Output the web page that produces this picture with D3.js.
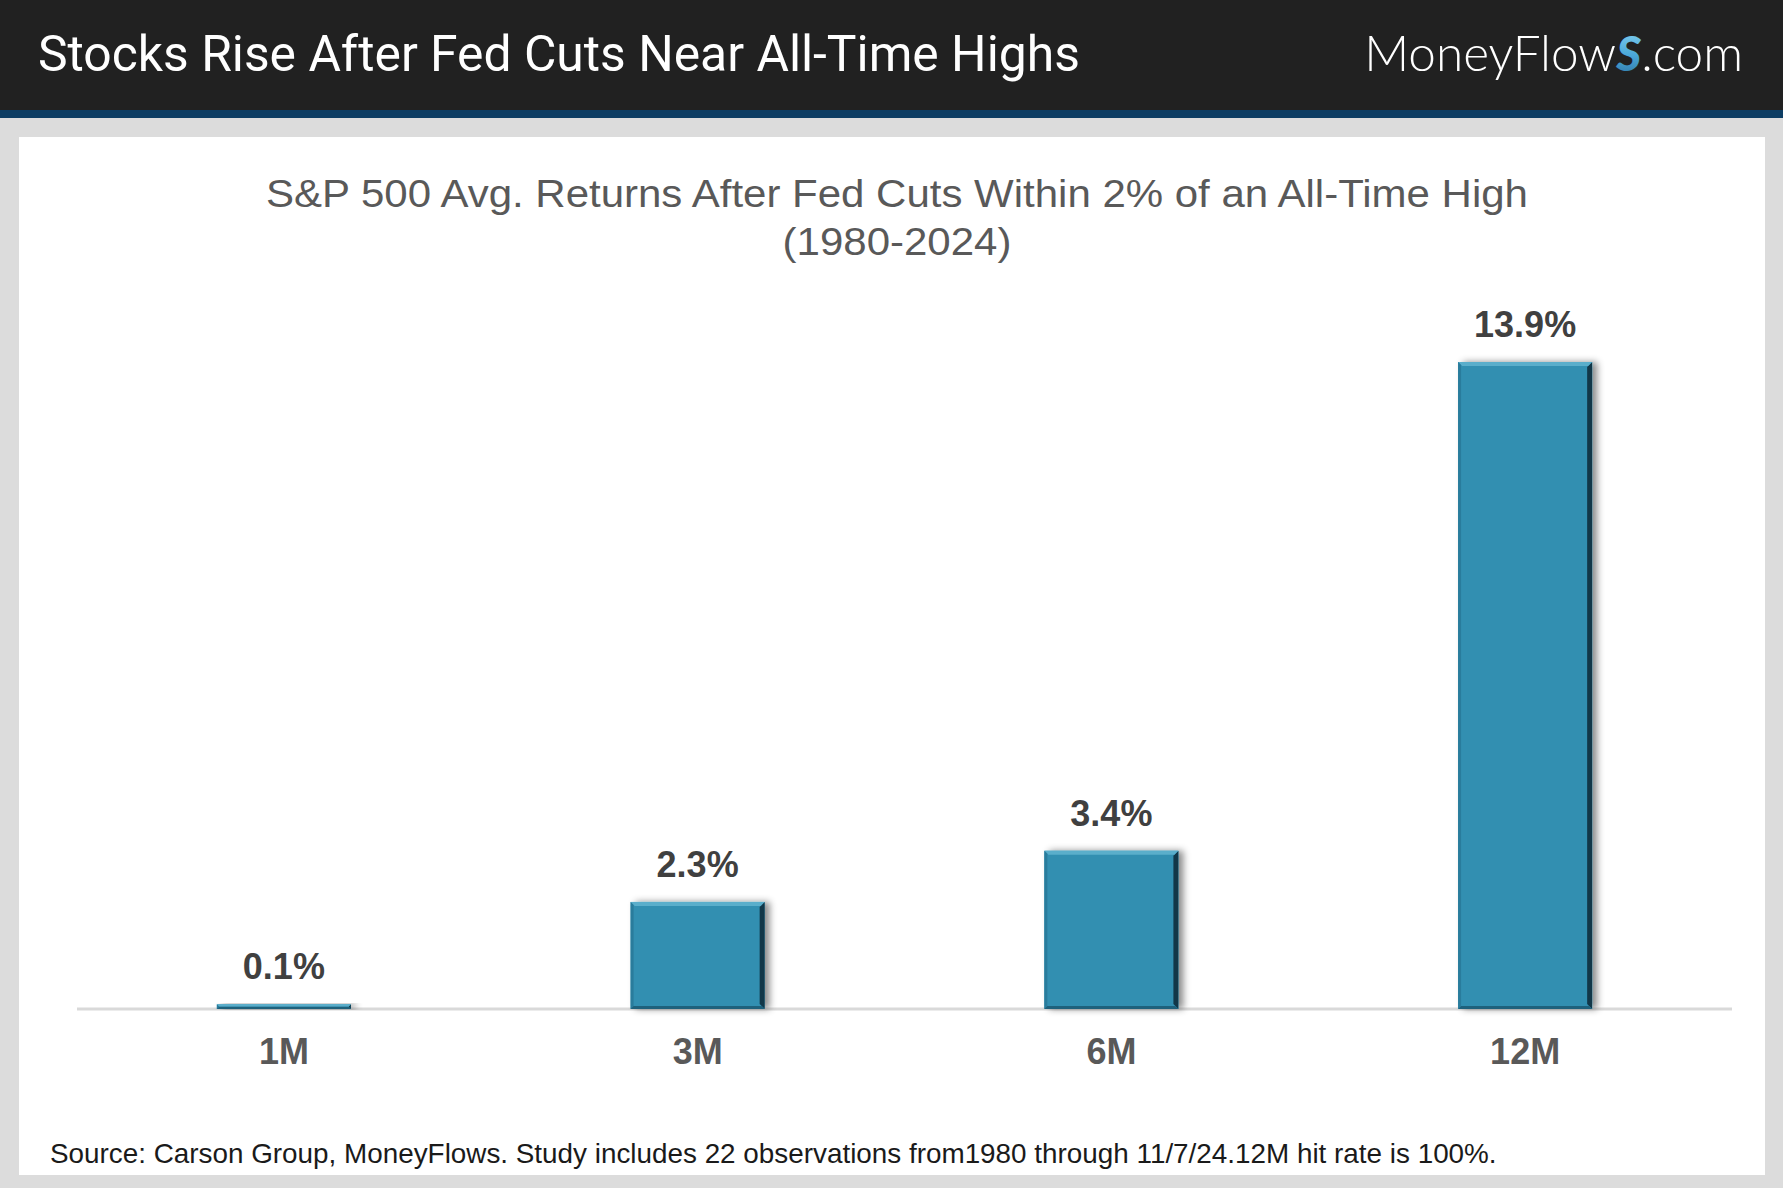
<!DOCTYPE html>
<html>
<head>
<meta charset="utf-8">
<script src="https://cdn.jsdelivr.net/npm/d3@7"></script>
<style>
  html, body { margin: 0; padding: 0; background: #dcdcdc; }
  svg { display: block; }
</style>
</head>
<body>
<svg id="chart" width="1783" height="1188"></svg>
<script>
// ---- data ----
const categories = ["1M", "3M", "6M", "12M"];
const values = [0.1, 2.3, 3.4, 13.9];
const valueLabels = ["0.1%", "2.3%", "3.4%", "13.9%"];
const headerTitle = "Stocks Rise After Fed Cuts Near All-Time Highs";
const subtitleLines = ["S&P 500 Avg. Returns After Fed Cuts Within 2% of an All-Time High", "(1980-2024)"];
const sourceText = "Source: Carson Group, MoneyFlows. Study includes 22 observations from1980 through 11/7/24.12M hit rate is 100%.";

const W = 1783, H = 1188;
const svg = d3.select("#chart");

function fitWidth(sel, target) {
  const node = sel.node();
  const w = node.getComputedTextLength();
  const fs = parseFloat(sel.attr("font-size"));
  sel.attr("font-size", fs * target / w);
}

// ---- defs ----
const defs = svg.append("defs");
const sh = defs.append("filter").attr("id", "shadow")
  .attr("x", "-20%").attr("y", "-20%").attr("width", "140%").attr("height", "140%");
sh.append("feDropShadow").attr("dx", 5).attr("dy", 0).attr("stdDeviation", 3.5)
  .attr("flood-color", "#000").attr("flood-opacity", 0.45);
const lg = defs.append("linearGradient").attr("id", "sgrad")
  .attr("x1", "0").attr("y1", "0").attr("x2", "0").attr("y2", "1");
lg.append("stop").attr("offset", "0%").attr("stop-color", "#8fd8f5");
lg.append("stop").attr("offset", "55%").attr("stop-color", "#4aa8d8");
lg.append("stop").attr("offset", "100%").attr("stop-color", "#2a6f9e");

// ---- background / header ----
svg.append("rect").attr("x", 0).attr("y", 0).attr("width", W).attr("height", H).attr("fill", "#dcdcdc");
svg.append("rect").attr("x", 0).attr("y", 0).attr("width", W).attr("height", 111).attr("fill", "#212121");
svg.append("rect").attr("x", 0).attr("y", 110).attr("width", W).attr("height", 8).attr("fill", "#0d3d63");
svg.append("rect").attr("x", 19).attr("y", 137).attr("width", 1746).attr("height", 1038).attr("fill", "#ffffff");

const ht = svg.append("text").attr("x", 38).attr("y", 71)
  .attr("font-family", "Roboto, 'Noto Sans', sans-serif").attr("font-size", 47)
  .attr("fill", "#ffffff").text(headerTitle);
fitWidth(ht, 1042);

const logo = svg.append("text").attr("x", 1743).attr("y", 71).attr("text-anchor", "end")
  .attr("font-family", "Lato, 'Open Sans', sans-serif").attr("font-weight", 300)
  .attr("font-size", 44).attr("fill", "#ffffff");
logo.append("tspan").text("MoneyFlow");
logo.append("tspan").attr("font-style", "italic").attr("font-weight", 900)
  .attr("fill", "url(#sgrad)").attr("font-size", 48).text("S");
logo.append("tspan").text(".com");
fitWidth(logo, 382);

// ---- subtitle ----
const sub = svg.append("g").selectAll("text").data(subtitleLines).join("text")
  .attr("x", 897).attr("y", (d, i) => 207 + i * 48)
  .attr("text-anchor", "middle")
  .attr("font-family", "'Liberation Sans', Arial, sans-serif")
  .attr("font-size", 38).attr("fill", "#595959")
  .text(d => d);
sub.each(function () {
  const len = this.getComputedTextLength();
  d3.select(this).attr("textLength", len * 1.105).attr("lengthAdjust", "spacingAndGlyphs");
});

// ---- scales ----
const x = d3.scaleBand().domain(categories).range([77, 1732]).paddingInner(0.676).paddingOuter(0.338);
const y = d3.scaleLinear().domain([0, 13.9]).range([1009, 362]);

// axis line
svg.append("line").attr("x1", 77).attr("x2", 1732).attr("y1", y(0)).attr("y2", y(0))
  .attr("stroke", "#d9d9d9").attr("stroke-width", 3);

// bars
const bars = svg.append("g").selectAll("g").data(values).join("g");
bars.append("rect")
  .attr("x", (d, i) => x(categories[i]))
  .attr("y", d => y(d))
  .attr("width", x.bandwidth())
  .attr("height", d => y(0) - y(d))
  .attr("fill", "#318fb1")
  .attr("filter", "url(#shadow)");
// bevel: right dark edge
bars.append("path").attr("fill", "#123748").attr("d", (d, i) => {
  const x0 = x(categories[i]), x1 = x0 + x.bandwidth(), t = y(d), b = y(0);
  const e = Math.min(5, (b - t) / 2);
  return `M${x1},${t}L${x1},${b}L${x1 - e},${b - e}L${x1 - e},${t + e}Z`;
});
// top light edge
bars.append("path").attr("fill", "#5aaecb").attr("d", (d, i) => {
  const x0 = x(categories[i]), x1 = x0 + x.bandwidth(), t = y(d), b = y(0);
  const e = Math.min(4, (b - t) / 2);
  return `M${x0},${t}L${x1},${t}L${x1 - e},${t + e}L${x0 + e},${t + e}Z`;
});
// left edge
bars.append("path").attr("fill", "#297c9c").attr("d", (d, i) => {
  const x0 = x(categories[i]), t = y(d), b = y(0);
  const e = Math.min(3, (b - t) / 2);
  return `M${x0},${t}L${x0 + e},${t + e}L${x0 + e},${b - e}L${x0},${b}Z`;
});
// bottom edge
bars.append("path").attr("fill", "#1e617c").attr("d", (d, i) => {
  const x0 = x(categories[i]), x1 = x0 + x.bandwidth(), t = y(d), b = y(0);
  const e = Math.min(3, (b - t) / 2);
  return `M${x0},${b}L${x1},${b}L${x1 - e},${b - e}L${x0 + e},${b - e}Z`;
});

// value labels
svg.append("g").selectAll("text").data(values).join("text")
  .attr("x", (d, i) => x(categories[i]) + x.bandwidth() / 2)
  .attr("y", d => y(d) - 25)
  .attr("text-anchor", "middle")
  .attr("font-family", "'Liberation Sans', Arial, sans-serif")
  .attr("font-weight", "bold").attr("font-size", 36).attr("fill", "#404040")
  .text((d, i) => valueLabels[i]);

// category axis
const xAxis = svg.append("g").attr("transform", `translate(0,${y(0)})`)
  .call(d3.axisBottom(x).tickSize(0).tickPadding(0));
xAxis.select(".domain").remove();
xAxis.selectAll("text")
  .attr("y", 55).attr("dy", 0)
  .attr("font-family", "'Liberation Sans', Arial, sans-serif")
  .attr("font-weight", "bold").attr("font-size", 36).attr("fill", "#595959");

// source
const src = svg.append("text").attr("x", 50).attr("y", 1163)
  .attr("font-family", "'Liberation Sans', Arial, sans-serif")
  .attr("font-size", 26).attr("fill", "#1a1a1a").text(sourceText);
fitWidth(src, 1447);
</script>
</body>
</html>
